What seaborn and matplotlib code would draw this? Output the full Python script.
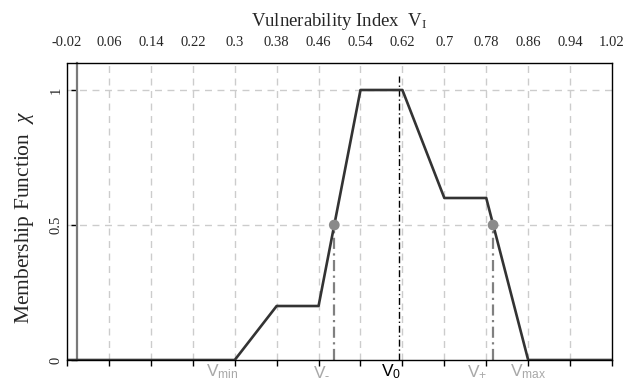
import matplotlib
matplotlib.use("Agg")
import matplotlib.pyplot as plt
import seaborn as sns
import pandas as pd

# Membership function breakpoints
vi_points = [-0.02, 0.30, 0.38, 0.46, 0.54, 0.62, 0.70, 0.78, 0.86, 1.02]
chi_points = [0.0, 0.0, 0.2, 0.2, 1.0, 1.0, 0.6, 0.6, 0.0, 0.0]

# Crossing points at chi = 0.5 and the central value
v_minus = 0.49
v_plus = 0.793
chi_half = 0.5
v_zero = 0.613

x_ticks = [-0.02, 0.06, 0.14, 0.22, 0.30, 0.38, 0.46, 0.54, 0.62, 0.70, 0.78, 0.86, 0.94, 1.02]
x_tick_labels = ["-0.02", "0.06", "0.14", "0.22", "0.3", "0.38", "0.46", "0.54",
                 "0.62", "0.7", "0.78", "0.86", "0.94", "1.02"]
y_ticks = [0, 0.5, 1]
y_tick_labels = ["0", "0.5", "1"]

# Marker names along the bottom (text, x position, colour)
marker_names = [r"$\mathsf{V}_{\mathsf{min}}$", r"$\mathsf{V}_{\text{-}}$",
                r"$\mathsf{V}_{\mathsf{0}}$", r"$\mathsf{V}_{\mathsf{+}}$",
                r"$\mathsf{V}_{\mathsf{max}}$"]
marker_name_x = [0.277, 0.465, 0.598, 0.763, 0.86]
marker_name_colors = ["#a8a8a8", "#a8a8a8", "#000000", "#a8a8a8", "#a8a8a8"]

sns.set_theme(style="white")
plt.rcParams["font.family"] = ["Liberation Serif", "DejaVu Serif"]
plt.rcParams["mathtext.fontset"] = "custom"
plt.rcParams["mathtext.rm"] = "Liberation Serif"
plt.rcParams["mathtext.it"] = "Liberation Serif:italic"
plt.rcParams["mathtext.sf"] = "Liberation Sans"

fig = plt.figure(figsize=(6.24, 3.85), dpi=100)
ax = fig.add_axes([0.1074, 0.0649, 0.8734, 0.7715])

curve = pd.DataFrame({"vi": vi_points, "chi": chi_points})
crossings = pd.DataFrame({"vi": [v_minus, v_plus], "chi": [chi_half, chi_half]})

grid_color = "#cccccc"
dash = (0, (5, 4))
for xv in x_ticks[1:-1]:
    ax.axvline(xv, color=grid_color, lw=1.0, ls=dash, zorder=0)
for yv in y_ticks[1:]:
    ax.axhline(yv, color=grid_color, lw=1.0, ls=dash, zorder=0)

# Drop lines from the crossing points and the central value
ax.vlines([v_minus, v_plus], 0, chi_half, color="#808080", lw=1.6,
          ls=(0, (5, 2, 1, 2)), zorder=2)
ax.vlines([v_zero], 0, 1.05, color="black", lw=1.0, ls=(0, (5, 2, 1, 2)), zorder=2)

sns.lineplot(data=curve, x="vi", y="chi", sort=False, color="#333333",
             lw=1.9, ax=ax, zorder=3)
sns.scatterplot(data=crossings, x="vi", y="chi", color="#8a8a8a", s=60,
                edgecolor="none", ax=ax, zorder=4)

ax.set_xlim(-0.02, 1.02)
ax.set_ylim(0, 1.1)

# Frame and axes
for side in ["top", "right", "bottom"]:
    ax.spines[side].set_visible(True)
    ax.spines[side].set_color("black")
    ax.spines[side].set_linewidth(1.0)
ax.spines["left"].set_position(("data", 0))
ax.spines["left"].set_color("#7a7a7a")
ax.spines["left"].set_linewidth(1.6)
ax.axvline(-0.02, color="black", lw=1.0, clip_on=False, zorder=5)

ax.set_xticks(x_ticks)
ax.set_xticklabels(x_tick_labels)
ax.tick_params(axis="x", which="both", bottom=True, top=False,
               labelbottom=False, labeltop=True, direction="out",
               length=4, width=1, color="black", labelsize=10.5, pad=6)
ax.set_yticks(y_ticks)
ax.set_yticklabels(y_tick_labels, rotation=90, va="center")
ax.tick_params(axis="y", left=True, direction="out", length=4, width=1,
               color="black", labelsize=10.5, pad=7)

ax.xaxis.set_label_position("top")
ax.set_xlabel(r"Vulnerability Index  $\mathrm{V}_\mathrm{I}$", fontsize=13.5, labelpad=7)
ax.set_ylabel(r"Membership Function  $\chi$", fontsize=15.5)
ax.yaxis.set_label_coords(-0.056, 0.48)

for name, xv, col in zip(marker_names, marker_name_x, marker_name_colors):
    ax.text(xv, -0.045, name, color=col, fontsize=12.5, ha="center", va="center",
            clip_on=False)

fig.savefig("out.png", dpi=100)
